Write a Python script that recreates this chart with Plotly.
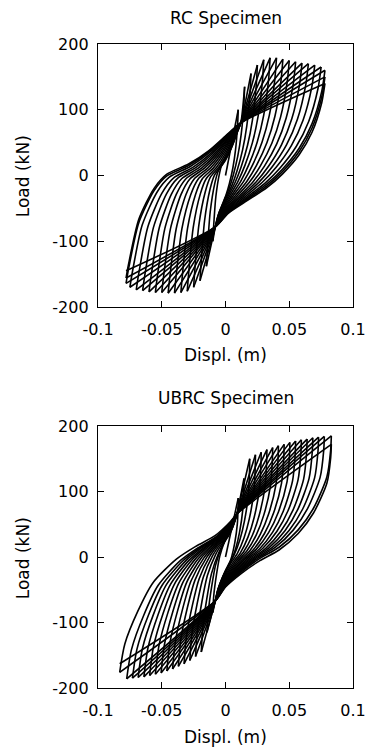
import plotly.graph_objects as go

# ---------------- data ----------------
# RC specimen: displacement amplitude of each cycle (m) and peak loads (kN)
rc_amp = [0.010, 0.015, 0.020, 0.025, 0.030, 0.035, 0.040, 0.045, 0.050,
          0.055, 0.060, 0.065, 0.070, 0.075, 0.078, 0.078, 0.078]
rc_fpos = [100, 135, 155, 168, 176, 179, 179, 177, 175, 173, 171, 170, 168,
           165, 160, 150, 140]
rc_fneg = [-100, -138, -160, -170, -176, -178, -179, -179, -178, -178, -177,
           -175, -174, -170, -164, -156, -145]
# pinching points (displacement, load)
rc_pinch_pos = [0.012, 80]
rc_pinch_neg = [-0.008, -78]
# outer unloading branch (from + peak down to pinch)
rc_desc_d = [0.077, 0.0745, 0.067, 0.057, 0.044, 0.032, 0.017, 0.002, -0.008]
rc_desc_f = [145, 115, 69, 34, 4, -17, -37, -57, -78]
# outer reloading branch (from - peak up to pinch)
rc_asc_d = [-0.078, -0.076, -0.068, -0.056, -0.046, -0.029, -0.013, 0.002, 0.012]
rc_asc_f = [-150, -129, -63, -17, 4, 19, 39, 64, 80]

# UBRC specimen
ub_amp = [0.010, 0.0145, 0.019, 0.0235, 0.028, 0.0325, 0.037, 0.0415, 0.046,
          0.0505, 0.055, 0.0595, 0.064, 0.0685, 0.073, 0.0775, 0.083, 0.083]
ub_fpos = [90, 120, 150, 156, 160, 164, 167, 170, 172, 175, 177, 179, 180,
           182, 183, 184, 185, 172]
ub_fneg = [-85, -115, -145, -152, -158, -163, -167, -171, -174, -177, -179,
           -181, -183, -184, -185, -186, -176, -163]
ub_pinch_pos = [0.009, 66]
ub_pinch_neg = [-0.008, -67]
ub_desc_d = [0.083, 0.0825, 0.0795, 0.069, 0.057, 0.042, 0.027, 0.012, 0.0, -0.008]
ub_desc_f = [170, 150, 111, 66, 35, 10, -6, -26, -46, -67]
ub_asc_d = [-0.082, -0.078, -0.068, -0.056, -0.038, -0.023, -0.008, 0.004, 0.009]
ub_asc_f = [-158, -118, -72, -31, 2, 20, 35, 55, 66]

x_ticks = [-0.1, -0.05, 0, 0.05, 0.1]
x_ticklabels = ["-0.1", "-0.05", "0", "0.05", "0.1"]
y_ticks = [-200, -100, 0, 100, 200]
y_ticklabels = ["-200", "-100", "0", "100", "200"]


def branch(tpl_d, tpl_f, start, end):
    """Map the read outer branch shape onto a branch from start to end."""
    d0, f0 = tpl_d[0], tpl_f[0]
    d1, f1 = tpl_d[-1], tpl_f[-1]
    xs, ys = [], []
    for d, f in zip(tpl_d, tpl_f):
        td = (d - d1) / (d0 - d1)
        tf = (f - f1) / (f0 - f1)
        xs.append(end[0] + td * (start[0] - end[0]))
        ys.append(end[1] + tf * (start[1] - end[1]))
    return xs, ys


def hysteresis(amp, fpos, fneg, p_pos, p_neg, dd, df, ad, af):
    """Return one list of (x, y) segments per half cycle (peak to peak)."""
    segs = []
    for i in range(len(amp)):
        if i == 0:
            segs.append(([0.0, amp[0]], [0.0, fpos[0]]))
        else:
            bx, by = branch(ad, af, (-amp[i - 1], fneg[i - 1]), tuple(p_pos))
            segs.append((bx + [amp[i]], by + [fpos[i]]))
        bx, by = branch(dd, df, (amp[i], fpos[i]), tuple(p_neg))
        segs.append((bx + [-amp[i]], by + [fneg[i]]))
    return segs


rc_segs = hysteresis(rc_amp, rc_fpos, rc_fneg, rc_pinch_pos, rc_pinch_neg,
                     rc_desc_d, rc_desc_f, rc_asc_d, rc_asc_f)
ub_segs = hysteresis(ub_amp, ub_fpos, ub_fneg, ub_pinch_pos, ub_pinch_neg,
                     ub_desc_d, ub_desc_f, ub_asc_d, ub_asc_f)

fig = go.Figure()
for segs, xa, ya in ((rc_segs, "x", "y"), (ub_segs, "x2", "y2")):
    for sx, sy in segs:
        fig.add_trace(go.Scatter(x=sx, y=sy, mode="lines",
                                 line=dict(color="black", width=1.6,
                                           shape="spline", smoothing=0.7),
                                 xaxis=xa, yaxis=ya, showlegend=False,
                                 hoverinfo="skip"))

FONT = "DejaVu Sans"
axis_common = dict(showline=True, mirror="ticks", linecolor="black", linewidth=1.3,
                   ticks="inside", ticklen=6, tickwidth=1.3, tickcolor="black",
                   showgrid=False, zeroline=False,
                   tickfont=dict(family=FONT, size=16, color="black"))

W, H = 378, 748
L, R, T, B = 98, 14, 44, 60
PW, PH = W - L - R, H - T - B


def px(xp):
    return (xp - L) / PW


def py(yp):
    return (H - B - yp) / PH


top_dom = [py(307), 1.0]
bot_dom = [0.0, py(426)]

fig.update_layout(
    width=W, height=H,
    margin=dict(l=L, r=R, t=T, b=B),
    paper_bgcolor="white", plot_bgcolor="white",
    xaxis=dict(domain=[0, 1], range=[-0.1, 0.1], anchor="y",
               tickvals=x_ticks, ticktext=x_ticklabels, ticklabelstandoff=8,
               **axis_common),
    yaxis=dict(domain=top_dom, range=[-200, 200], anchor="x",
               tickvals=y_ticks, ticktext=y_ticklabels, ticklabelstandoff=5,
               **axis_common),
    xaxis2=dict(domain=[0, 1], range=[-0.1, 0.1], anchor="y2",
                tickvals=x_ticks, ticktext=x_ticklabels, ticklabelstandoff=8,
                **axis_common),
    yaxis2=dict(domain=bot_dom, range=[-200, 200], anchor="x2",
                tickvals=y_ticks, ticktext=y_ticklabels, ticklabelstandoff=5,
                **axis_common),
)

ann_font = dict(family=FONT, size=17, color="black")
annotations = [
    ("RC Specimen", 231.5, 18, 0),
    ("UBRC Specimen", 231.5, 398, 0),
    ("Displ. (m)", 231, 355, 0),
    ("Displ. (m)", 231, 737, 0),
    ("Load (kN)", 20, 176, -90),
    ("Load (kN)", 20, 558, -90),
]
for text, xp, yp, ang in annotations:
    fig.add_annotation(text=text, x=px(xp), y=py(yp), xref="paper", yref="paper",
                       xanchor="center", yanchor="middle", showarrow=False,
                       textangle=ang, font=ann_font)

fig.write_html("out.html")
